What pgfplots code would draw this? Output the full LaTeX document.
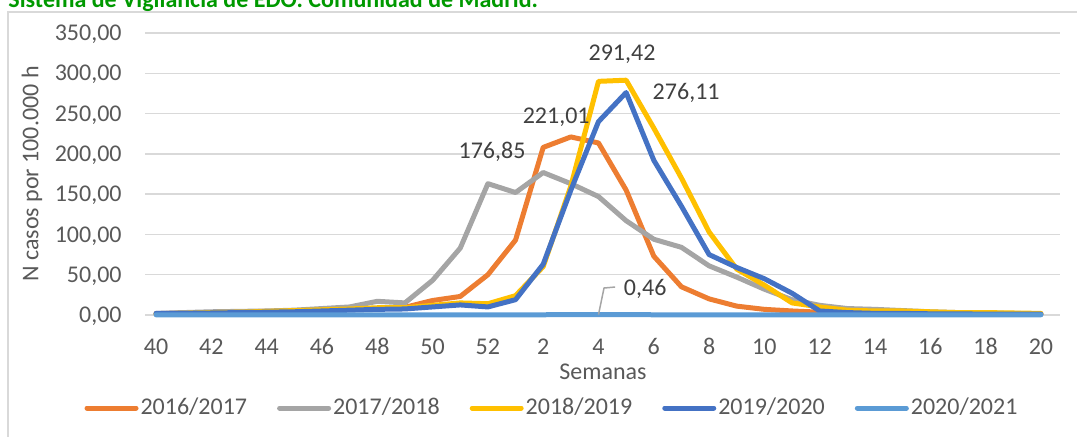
\documentclass[border=0pt]{standalone}
\usepackage{fontspec}
\setmainfont{Carlito}
\usepackage{pgfplots}
\pgfplotsset{compat=1.18}
\definecolor{cOr}{HTML}{ED7D31}
\definecolor{cGr}{HTML}{A5A5A5}
\definecolor{cYe}{HTML}{FFC000}
\definecolor{cBl}{HTML}{4472C4}
\definecolor{cLb}{HTML}{5B9BD5}
\definecolor{cGrid}{HTML}{D9D9D9}
\definecolor{cTxt}{HTML}{595959}
\definecolor{cLab}{HTML}{404040}
\definecolor{cTitle}{RGB}{0,153,0}
\begin{document}
\fontsize{12bp}{14bp}\selectfont
\begin{tikzpicture}
\path[use as bounding box] (0bp,0bp) rectangle (538.5bp,218.5bp);
\clip (0bp,0bp) rectangle (538.5bp,218.5bp);
\draw[cGrid, line width=0.75bp] (4bp,-10bp) rectangle (560bp,212.5bp);
\node[anchor=base west, inner sep=0pt, font=\bfseries, text=cTitle] at (4bp,214.75bp) {Sistema de Vigilancia de EDO. Comunidad de Madrid.};
\node[rotate=90, text=cTxt, inner sep=0pt] at (16bp,131.5bp) {N casos por 100.000 h};
\node[text=cTxt, inner sep=0pt] at (301.5bp,32.5bp) {Semanas};
\begin{axis}[
  at={(72.5bp,61bp)}, anchor=south west,
  width=457.5bp, height=141bp, scale only axis,
  xmin=-0.40, xmax=32.69, ymin=0, ymax=350,
  clip=false,
  axis line style={draw=none},
  major tick length=0pt,
  ymajorgrids, grid style={cGrid, line width=0.75bp},
  xtick={0,2,...,32},
  xticklabels={40,42,44,46,48,50,52,2,4,6,8,10,12,14,16,18,20},
  ytick={0,50,...,350},
  yticklabels={{0,00},{50,00},{100,00},{150,00},{200,00},{250,00},{300,00},{350,00}},
  xticklabel style={anchor=base, inner sep=0pt, yshift=-19.75bp, text=cTxt},
  yticklabel style={anchor=base east, inner sep=0pt, xshift=-11.5bp, yshift=-3.8bp, text=cTxt},
  every axis plot/.append style={line width=2.5bp, line join=round, line cap=round},
  legend columns=5,
  legend image code/.code={\draw[#1, line width=2.5bp, line cap=round] (1.25bp,0bp) -- (25.75bp,0bp);},
  legend style={at={(0.4448,-0.3298)}, anchor=center, draw=none, fill=none,
    column sep=0bp, /tikz/every even column/.append style={column sep=14bp},
    nodes={inner xsep=1bp, inner ysep=0pt, text=cTxt}},
]
\addplot[cOr] coordinates {(0,1.5)(1,2.5)(2,3)(3,4)(4,4.5)(5,5)(6,6)(7,7)(8,8)(9,9.5)(10,18)(11,23)(12,50)(13,93)(14,208)(15,221.01)(16,213.5)(17,155)(18,73)(19,35)(20,20)(21,11)(22,7)(23,5)(24,3.5)(25,2.5)(26,2)(27,2)(28,1.5)(29,1.5)(30,1)(31,1)(32,1)};
\addlegendentry{2016/2017}
\addplot[cGr] coordinates {(0,2)(1,3)(2,4)(3,4.5)(4,5)(5,6)(6,8)(7,10)(8,17)(9,15)(10,43)(11,83)(12,163)(13,152)(14,176.85)(15,163)(16,147)(17,117)(18,94)(19,84)(20,61)(21,47)(22,32)(23,19)(24,12)(25,8)(26,7)(27,5.5)(28,4)(29,3)(30,2.5)(31,2)(32,1.5)};
\addlegendentry{2017/2018}
\addplot[cYe] coordinates {(0,1.5)(1,2)(2,3)(3,3.5)(4,4.5)(5,5.5)(6,6.5)(7,7.5)(8,9)(9,9)(10,12)(11,15)(12,14)(13,24)(14,60)(15,160)(16,290)(17,291.42)(18,232)(19,170)(20,103)(21,57)(22,37)(23,15)(24,10)(25,6)(26,5)(27,5)(28,4)(29,3)(30,3)(31,2.5)(32,2)};
\addlegendentry{2018/2019}
\addplot[cBl] coordinates {(0,2)(1,2)(2,2.5)(3,3)(4,3.5)(5,4)(6,5)(7,6)(8,7)(9,7.5)(10,10)(11,12.5)(12,10)(13,19)(14,63)(15,155)(16,240)(17,276.11)(18,192)(19,135)(20,75)(21,59)(22,45)(23,27)(24,5)(25,3)(26,2)(27,2)(28,1.5)(29,1.5)(30,1)(31,1)(32,1)};
\addlegendentry{2019/2020}
\addplot[cLb] coordinates {(0,0.2)(1,0.2)(2,0.2)(3,0.2)(4,0.2)(5,0.2)(6,0.2)(7,0.2)(8,0.2)(9,0.2)(10,0.2)(11,0.2)(12,0.2)(13,0.2)(14,0.3)(15,0.4)(16,0.46)(17,0.4)(18,0.3)(19,0.2)(20,0.2)(21,0.2)(22,0.2)(23,0.2)(24,0.2)(25,0.2)(26,0.2)(27,0.2)(28,0.2)(29,0.2)(30,0.2)(31,0.2)(32,0.2)};
\addlegendentry{2020/2021}
\draw[cGr, line width=0.75bp] (axis cs:16,0.46) -- (axis cs:16.2,33.5) -- (axis cs:16.6,34.7);
\node[text=cLab, inner sep=0pt] at (axis cs:16.85,323.9) {291,42};
\node[text=cLab, inner sep=0pt] at (axis cs:19.17,275.5) {276,11};
\node[text=cLab, inner sep=0pt] at (axis cs:14.47,245.7) {221,01};
\node[text=cLab, inner sep=0pt] at (axis cs:12.15,202.3) {176,85};
\node[text=cLab, inner sep=0pt] at (axis cs:17.69,32.3) {0,46};
\end{axis}
\end{tikzpicture}
\end{document}
